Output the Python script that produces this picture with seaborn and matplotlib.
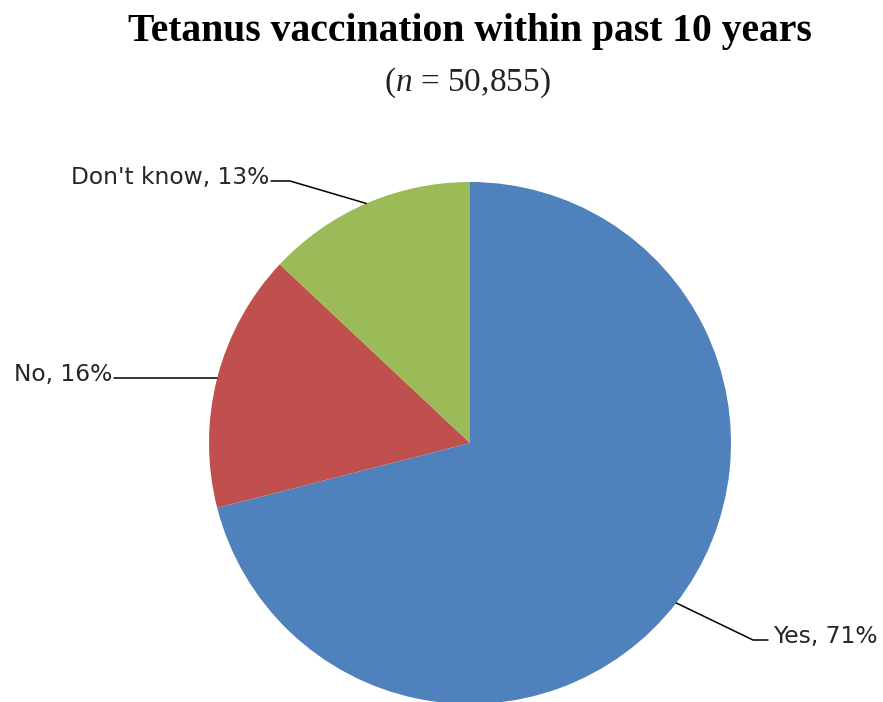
import numpy as np
import matplotlib
matplotlib.use("Agg")
import matplotlib.pyplot as plt
import seaborn as sns

categories = ["Yes", "No", "Don't know"]
values = [71, 16, 13]
colors = ["#4F81BD", "#C0504D", "#9BBB59"]
title = "Tetanus vaccination within past 10 years"
subtitle = "($\\mathit{n}$ = 50,855)"

sns.set_theme(style="white")
plt.rcParams["mathtext.fontset"] = "custom"
plt.rcParams["mathtext.rm"] = "Liberation Serif"
plt.rcParams["mathtext.it"] = "Liberation Serif:italic"

W, H = 883, 702
fig = plt.figure(figsize=(W / 100, H / 100), dpi=100)
ax = fig.add_axes([0, 0, 1, 1])

cx, cy, R = 470, H - 443, 261
wedges, _ = ax.pie(values, colors=colors, startangle=90, counterclock=False,
                   center=(cx, cy), radius=R, frame=True,
                   wedgeprops=dict(linewidth=0))
ax.set_xlim(0, W)
ax.set_ylim(0, H)
ax.axis("off")

# label layouts: (elbow point, text anchor, ha); None elbow y -> horizontal
layout = {
    "Yes": ((753, H - 640), (768, H - 640), "left"),
    "No": ((217, None), (114, None), "right"),
    "Don't know": ((290, H - 181), (271, H - 181), "right"),
}
for w, cat, v in zip(wedges, categories, values):
    ang = np.deg2rad((w.theta1 + w.theta2) / 2)
    px, py = cx + R * np.cos(ang), cy + R * np.sin(ang)
    (ex, ey), (tx, ty), ha = layout[cat]
    if ey is None:
        ey = ty = py
    ax.plot([px, ex, tx], [py, ey, ty], color="black", lw=1.1)
    off = 5 if ha == "left" else -2
    ax.text(tx + off, ty - 3, f"{cat}, {v}%", ha=ha, va="baseline",
            fontsize=16.8, family="DejaVu Sans", color="#262626")

fig.text(470 / W, 1 - 32 / H, title, ha="center", va="center",
         fontsize=28.5, fontweight="bold", family="Liberation Serif", color="black")
fig.text(467 / W, 1 - 83 / H, subtitle, ha="center", va="center",
         fontsize=24, family="Liberation Serif", color="#222222")

fig.savefig("out.png", dpi=100, facecolor="white")
